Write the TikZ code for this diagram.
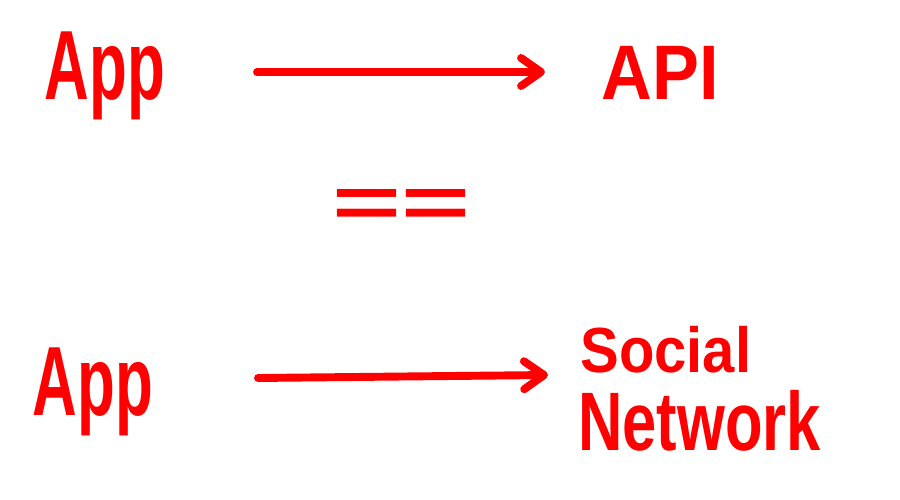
\documentclass[tikz,border=0pt]{standalone}
\usepackage{fontspec}
\setmainfont{Liberation Sans}
\usetikzlibrary{arrows.meta}
\definecolor{ink}{RGB}{255,0,0}
\tikzset{
  hand/.style={text=ink, inner sep=0pt, font=\bfseries},
  arr/.style={draw=ink, line width=4.5pt, line cap=round,
    -{Straight Barb[length=0.4cm, width=0.56cm, line cap=round, line join=round]}},
}
\begin{document}
\begin{tikzpicture}[x=0.02cm, y=-0.02cm]
\useasboundingbox (0,0) rectangle (900,500);
% top row
\node[hand, anchor=base] (appT) at (105,100) {\fontsize{40}{40}\selectfont\scalebox{0.88}[1.4]{App}};
\node[hand, anchor=base] (api) at (660,100) {\fontsize{40}{40}\selectfont\scalebox{1}[1.1]{API}};
\coordinate (t1) at (257,72);
\coordinate (t2) at (545,72);
\draw[arr] (t1) -- (t2);
% equals
\node[hand] (eq) at (401,208) {\fontsize{64}{64}\selectfont\scalebox{1.05}[0.65]{==}};
% bottom row
\node[hand, anchor=base] (appB) at (93,415) {\fontsize{40}{40}\selectfont\scalebox{0.88}[1.4]{App}};
\node[hand, anchor=base west] (soc) at (580,372) {\fontsize{33}{33}\selectfont\scalebox{1}[1.1]{Social}};
\node[hand, anchor=base west] (net) at (578,450) {\fontsize{35}{35}\selectfont\scalebox{1}[1.35]{Network}};
\coordinate (b1) at (258,378);
\coordinate (b2) at (548,375);
\draw[arr] (b1) -- (b2);
\end{tikzpicture}
\end{document}
